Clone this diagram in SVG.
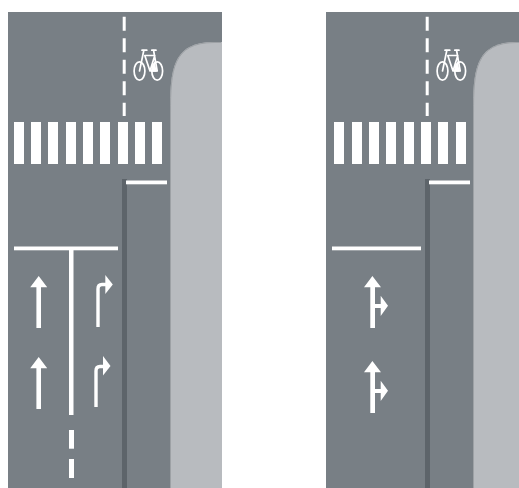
<svg xmlns="http://www.w3.org/2000/svg" width="519" height="488" viewBox="0 0 519 488">
<defs>
<style>
.road{fill:#787f85}
.walk{fill:#b8bbbf}
.edge{fill:none;stroke:#9da1a5;stroke-width:1}
.kerb{fill:#5d646a}
.w{fill:#fff}
.dash{stroke:#fff;stroke-width:3;stroke-dasharray:14 7.5;fill:none}
.bs{fill:none;stroke:#fff;stroke-width:1.7;stroke-linejoin:round;stroke-linecap:round}
.turn{fill:none;stroke:#fff;stroke-width:3.4}
</style>
<g id="bike">
<ellipse class="bs" cx="139.500" cy="71" rx="5.400" ry="9.200"/>
<ellipse class="bs" cx="157.200" cy="71" rx="5.400" ry="9.200"/>
<path class="bs" d="M143.800 50.500L139.500 71M144.800 55.500H154.800M144.800 55.500L150 71H157.200L153.600 50.500M154.800 55.500L150 71"/>
<path class="w" d="M154.600 61L156.800 71.800H151Z"/>
<path class="bs" d="M142 50.200H146.800M151.800 50.200H156"/>
</g>
<g id="crossStripe"><rect class="w" width="10" height="42" y="122"/></g>
<path id="straight" class="w" d="M38.700 276L47.200 287.300H41V328H36.400V287.300H30.200Z"/>
<path id="combo" class="w" d="M372.400 276L381 287.300H375V304H380.700V295.700L388 305.800L380.700 316V308H375V328H370.300V287.300H364Z"/>
</defs>

<g id="left-panel">
<rect class="road" x="8" y="12" width="214" height="476"/>
<path class="walk" d="M222 488H170V113C170 70 172 42 214 42H222Z"/>
<path class="edge" d="M170.500 488V113C170.500 70 172.500 42.500 214 42.500H221"/>
<rect class="kerb" x="122" y="179" width="5" height="309"/>
</g>

<g id="right-panel">
<rect class="road" x="326" y="12" width="193" height="476"/>
<path class="walk" d="M519 488H473V113C473 70 475 42 517 42H519Z"/>
<path class="edge" d="M473.500 488V113C473.500 70 475.500 42.500 517 42.500H519"/>
<rect class="kerb" x="425" y="179" width="5" height="309"/>
</g>

<g id="connectors">
<path class="dash" d="M124.200 16.700V116"/>
<path class="dash" d="M427.200 16.700V116"/>
<rect class="w" x="14" y="246.500" width="104" height="3.800"/>
<rect class="w" x="69" y="249" width="4.500" height="166"/>
<rect class="w" x="69" y="430" width="5" height="18.700"/>
<rect class="w" x="69" y="459" width="5" height="19"/>
<rect class="w" x="126" y="180.500" width="41" height="3.800"/>
<rect class="w" x="429" y="180.500" width="41" height="3.800"/>
<rect class="w" x="332" y="246.500" width="89" height="3.800"/>
</g>

<g id="crosswalk-left">
<use href="#crossStripe" x="14"/><use href="#crossStripe" x="31"/><use href="#crossStripe" x="48"/><use href="#crossStripe" x="66"/><use href="#crossStripe" x="83"/><use href="#crossStripe" x="100"/><use href="#crossStripe" x="118"/><use href="#crossStripe" x="135"/><use href="#crossStripe" x="152"/>
</g>
<g id="crosswalk-right">
<use href="#crossStripe" x="334"/><use href="#crossStripe" x="352"/><use href="#crossStripe" x="369"/><use href="#crossStripe" x="386"/><use href="#crossStripe" x="404"/><use href="#crossStripe" x="421"/><use href="#crossStripe" x="438"/><use href="#crossStripe" x="456"/>
</g>

<g id="bike-left"><use href="#bike"/></g>
<g id="bike-right"><use href="#bike" x="303"/></g>

<g id="arrows-left">
<use href="#straight"/>
<use href="#straight" y="81"/>
<g id="turn-1">
<path class="turn" d="M98 327V289C98 286 99.500 284.500 102 284.500H106"/>
<path class="w" d="M105.300 275L112.800 284.500L105.300 294Z"/>
</g>
<g id="turn-2">
<path class="turn" d="M96 407V371C96 368 97.500 366.500 100 366.500H104"/>
<path class="w" d="M103 356L110.500 366L103 375.500Z"/>
</g>
</g>

<g id="arrows-right">
<use href="#combo"/>
<use href="#combo" y="85"/>
</g>
</svg>
